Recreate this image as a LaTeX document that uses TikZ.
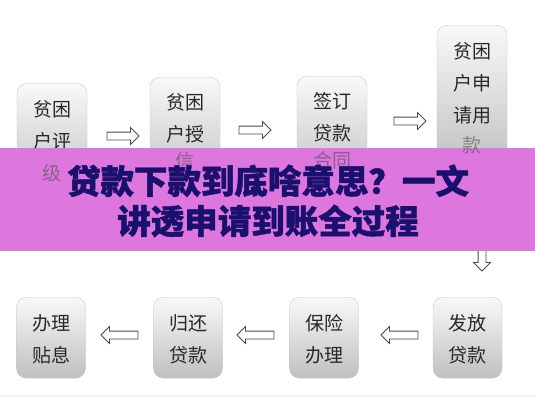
\documentclass[tikz,border=0pt]{standalone}
\usepackage{fontspec}
\newfontfamily\cjk{Noto Sans CJK SC}
\newfontfamily\titlefont{Noto Sans CJK SC}[BoldFeatures={FakeBold=1.4}]
\usetikzlibrary{shapes.arrows}
\definecolor{bandcol}{RGB}{221,118,221}
\definecolor{navy}{RGB}{26,16,110}
\definecolor{boxtext}{RGB}{40,40,40}
\tikzset{
  stepbox/.style={draw=gray!45, rounded corners=10pt, top color=gray!5, bottom color=gray!50, minimum width=70pt, inner sep=0pt},
  boxtxt/.style={font=\cjk\fontsize{19}{32}\selectfont, text=boxtext, align=center, inner sep=0pt},
  faint/.style={font=\cjk\fontsize{19}{32}\selectfont, text=gray!60!black, text opacity=0.55, inner sep=0pt},
  blockarrow/.style={single arrow, draw=gray!60!black, fill=white, line width=0.8pt, inner xsep=0pt, inner ysep=3.5pt, single arrow head extend=4.5pt, single arrow head indent=0pt, minimum height=32pt},
}
\begin{document}
\begin{tikzpicture}[x=1pt,y=-1pt]
\useasboundingbox (0,0) rectangle (535,400);
\fill[white] (0,0) rectangle (535,400);
% top row boxes
\node[stepbox, minimum height=113pt, anchor=north] (b1) at (52,83) {};
\node[stepbox, minimum height=113pt, anchor=north] (b2) at (185,77) {};
\node[stepbox, minimum height=113pt, anchor=north] (b3) at (332,76) {};
\node[stepbox, minimum height=145pt, anchor=north] (b4) at (472,25) {};
\node[boxtxt] (t1) at (52,125) {贫困\\户评};
\node[boxtxt] (t2) at (185,118) {贫困\\户授};
\node[boxtxt] (t3) at (332,117.5) {签订\\贷款};
\node[boxtxt] (t4) at (472,83) {贫困\\户申\\请用};
% bottom row boxes
\node[stepbox, minimum height=81pt, minimum width=69pt, anchor=north] (b5) at (467.5,297) {};
\node[stepbox, minimum height=81pt, minimum width=69pt, anchor=north] (b6) at (324,297) {};
\node[stepbox, minimum height=81pt, minimum width=69pt, anchor=north] (b7) at (188,297) {};
\node[stepbox, minimum height=81pt, minimum width=69pt, anchor=north] (b8) at (51,297) {};
\node[boxtxt] (t5) at (467.5,339) {发放\\贷款};
\node[boxtxt] (t6) at (324,339) {保险\\办理};
\node[boxtxt] (t7) at (188,339) {归还\\贷款};
\node[boxtxt] (t8) at (51,339) {办理\\贴息};
% arrows
\node[blockarrow] (a1) at (121,136) {};
\node[blockarrow] (a2) at (253,130) {};
\node[blockarrow] (a3) at (408,121) {};
\node[blockarrow, rotate=-90, minimum height=30pt] (a4) at (482,254) {};
\node[blockarrow, shape border rotate=180, minimum height=37pt] (a5) at (401.5,335) {};
\node[blockarrow, shape border rotate=180, minimum height=37pt] (a6) at (257.5,335) {};
\node[blockarrow, shape border rotate=180, minimum height=37pt] (a7) at (121.5,335) {};
% bottom edge line
\draw[gray!12, line width=2pt] (0,396) -- (535,396);
% title band
\fill[bandcol] (0,148) rectangle (535,251);
\node[faint] (f1) at (52,173) {级};
\node[faint] (f2) at (185,161) {信};
\node[faint] (f3) at (332,160) {合同};
\node[faint] (f4) at (472,145) {款};
\node[font=\titlefont\bfseries\fontsize{33.5}{40}\selectfont, text=navy, align=center, inner sep=0pt] (title) at (268,201) {贷款下款到底啥意思？一文\\讲透申请到账全过程};
\end{tikzpicture}
\end{document}
